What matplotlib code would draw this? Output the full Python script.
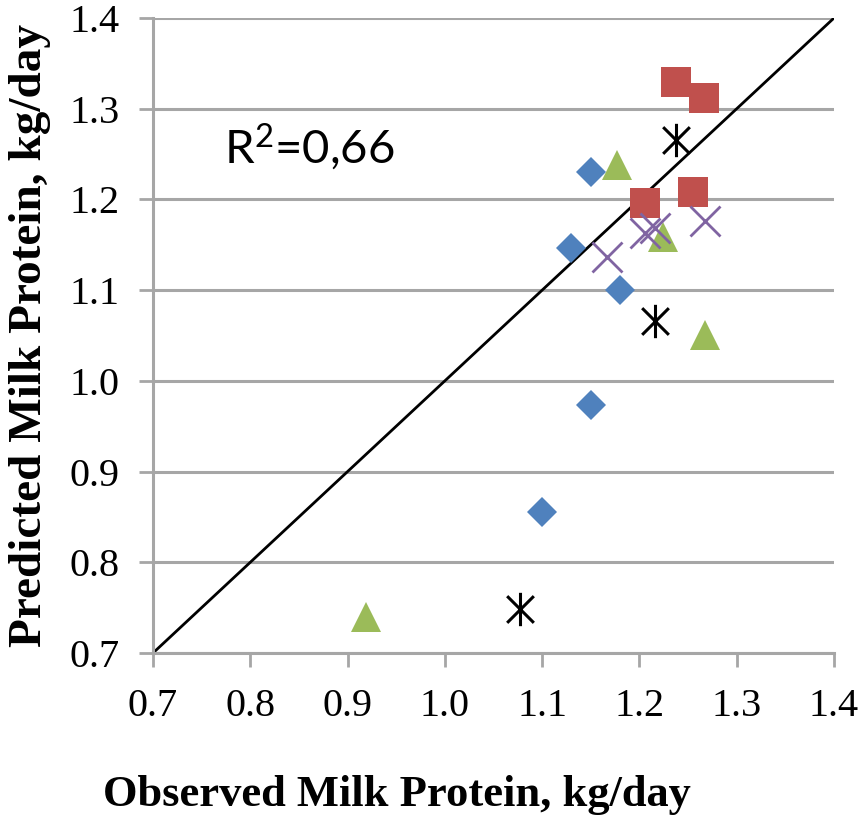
import matplotlib.pyplot as plt
import numpy as np
from matplotlib.path import Path

# observed (x) vs predicted (y) milk protein, kg/day, one group per marker
blue_obs = [1.15, 1.13, 1.18, 1.15, 1.10]
blue_pred = [1.23, 1.146, 1.10, 0.973, 0.855]
red_obs = [1.238, 1.266, 1.206, 1.255]
red_pred = [1.329, 1.312, 1.196, 1.208]
green_obs = [1.177, 1.224, 1.267, 0.919]
green_pred = [1.238, 1.159, 1.051, 0.740]
black_obs = [1.238, 1.216, 1.077]
black_pred = [1.266, 1.066, 0.748]
purple_obs = [1.167, 1.206, 1.216, 1.267]
purple_pred = [1.137, 1.163, 1.169, 1.176]

ticks = [0.7, 0.8, 0.9, 1.0, 1.1, 1.2, 1.3, 1.4]
r2_text = "R$^2$=0,66"

grey = "#a6a6a6"
serif = "Liberation Serif"

plt.rcParams["mathtext.fontset"] = "custom"
plt.rcParams["mathtext.rm"] = "Lato"
plt.rcParams["mathtext.it"] = "Lato"
plt.rcParams["mathtext.default"] = "rm"

# excel-style asterisk: x plus a vertical bar
star = Path(
    [(0, -1), (0, 1), (-0.8, -0.8), (0.8, 0.8), (-0.8, 0.8), (0.8, -0.8)],
    [Path.MOVETO, Path.LINETO, Path.MOVETO, Path.LINETO, Path.MOVETO, Path.LINETO],
)

fig = plt.figure(figsize=(8.58, 8.26), dpi=100)
ax = fig.add_axes([153 / 858, 1 - 653 / 826, (834 - 153) / 858, (653 - 18) / 826])

ax.set_xlim(0.7, 1.4)
ax.set_ylim(0.7, 1.4)
ax.set_xticks(ticks)
ax.set_yticks(ticks)
ax.set_xticklabels([f"{t:.1f}" for t in ticks], fontfamily=serif, fontsize=29)
ax.set_yticklabels([f"{t:.1f}" for t in ticks], fontfamily=serif, fontsize=29)
ax.tick_params(axis="x", length=10, width=2, color=grey, pad=15)
ax.tick_params(axis="y", length=10, width=2, color=grey, pad=14)

for s in ["top", "right"]:
    ax.spines[s].set_visible(False)
for s in ["left", "bottom"]:
    ax.spines[s].set_color(grey)
    ax.spines[s].set_linewidth(2.2)
ax.yaxis.grid(True, color=grey, lw=2.2, zorder=0)
ax.set_axisbelow(True)
ax.set_clip_on(False)

ax.plot([0.7, 1.4], [0.7, 1.4], color="black", lw=2, zorder=2)

ax.plot(blue_obs, blue_pred, "D", ms=15, color="#4f81bd", mew=0, zorder=3)
ax.plot(red_obs, red_pred, "s", ms=21, color="#c0504d", mew=0, zorder=3)
ax.plot(green_obs, green_pred, "^", ms=22, color="#9bbb59", mew=0, zorder=3)
ax.plot(purple_obs, purple_pred, "x", ms=21, color="#8064a2", mew=2, zorder=4)
ax.plot(black_obs, black_pred, marker=star, ls="none", ms=24, color="black",
        mew=2.2, zorder=4)

ax.text(0.773, 1.257, r2_text, fontfamily="Lato", fontsize=34, va="center")

fig.text(397 / 858, 1 - 795 / 826, "Observed Milk Protein, kg/day",
         fontfamily=serif, fontweight="bold", fontsize=32, ha="center", va="center")
fig.text(30 / 858, 1 - 335 / 826, "Predicted Milk Protein, kg/day",
         fontfamily=serif, fontweight="bold", fontsize=34, ha="center", va="center",
         rotation=90)

fig.savefig("out.png", dpi=100)
